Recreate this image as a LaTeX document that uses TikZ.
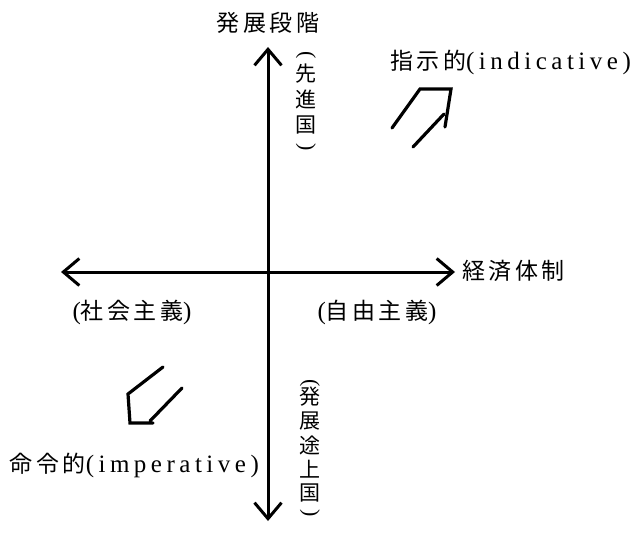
\documentclass[tikz,border=0pt]{standalone}
\usepackage{fontspec}
\setmainfont{Liberation Serif}[LetterSpace=18]
\newfontfamily\jp{Noto Sans CJK JP}[LetterSpace=15]
\newcommand{\lat}[1]{{\fontsize{25}{26}\selectfont #1}}
\usetikzlibrary{arrows.meta}
\begin{document}
\begin{tikzpicture}[x=1pt,y=-1pt,
  barb/.tip={Straight Barb[length=16pt,width=27pt,line width=3pt]},
  axis/.style={line width=3pt,barb-barb},
  lbl/.style={font=\fontsize{23}{26}\selectfont,inner sep=0pt},
  vch/.style={font=\jp\fontsize{21}{24}\selectfont,inner sep=0pt},
  vpar/.style={font=\fontsize{22}{24}\selectfont,inner sep=0pt,rotate=-90},
  dbl/.style={line width=3.2pt,line cap=round,line join=miter}]
\useasboundingbox (0,0) rectangle (639,543);
\coordinate (top) at (268,47);
\coordinate (bot) at (268,521);
\coordinate (left) at (61,272);
\coordinate (right) at (455,272);
\draw[axis] (top) -- (bot);
\draw[axis] (left) -- (right);
\node[lbl] (vt) at (268,23) {\jp 発展段階};
\node[lbl,anchor=west] (ht) at (462,271) {\jp 経済体制};
\node[lbl] (soc) at (132,312) {\lat{(}{\jp 社会主義}\lat{)}};
\node[lbl] (lib) at (377,312) {\lat{(}{\jp 自由主義}\lat{)}};
\node[lbl,anchor=west] (ind) at (390,62) {{\jp 指示的}\lat{(indicative)}};
\node[lbl,anchor=east] (imp) at (259,465) {{\jp 命令的}\lat{(imperative)}};
% vertical label: advanced countries
\node[vpar] (advo) at (306,55) {(};
\node[vch] (adv1) at (306,74) {先};
\node[vch] (adv2) at (306,99) {進};
\node[vch] (adv3) at (306,125) {国};
\node[vpar] (advc) at (306,147) {)};
% vertical label: developing countries
\node[vpar] (devo) at (310,383) {(};
\node[vch] (dev1) at (310,397) {発};
\node[vch] (dev2) at (310,421) {展};
\node[vch] (dev3) at (310,445) {途};
\node[vch] (dev4) at (310,469) {上};
\node[vch] (dev5) at (310,493) {国};
\node[vpar] (devc) at (310,513) {)};
% indicative double arrow
\coordinate (i1) at (392,128);
\coordinate (i2) at (420,89);
\coordinate (i3) at (451,89);
\coordinate (i4) at (445,127);
\coordinate (i5) at (413,147);
\coordinate (i6) at (444,114);
\draw[dbl] (i1) -- (i2) -- (i3) -- (i4);
\draw[dbl] (i5) -- (i6);
% imperative double arrow
\coordinate (m1) at (163,367);
\coordinate (m2) at (128,394);
\coordinate (m3) at (130,423);
\coordinate (m4) at (153,423);
\coordinate (m5) at (182,388);
\coordinate (m6) at (150,421);
\draw[dbl] (m1) -- (m2) -- (m3) -- (m4);
\draw[dbl] (m5) -- (m6);
\end{tikzpicture}
\end{document}
